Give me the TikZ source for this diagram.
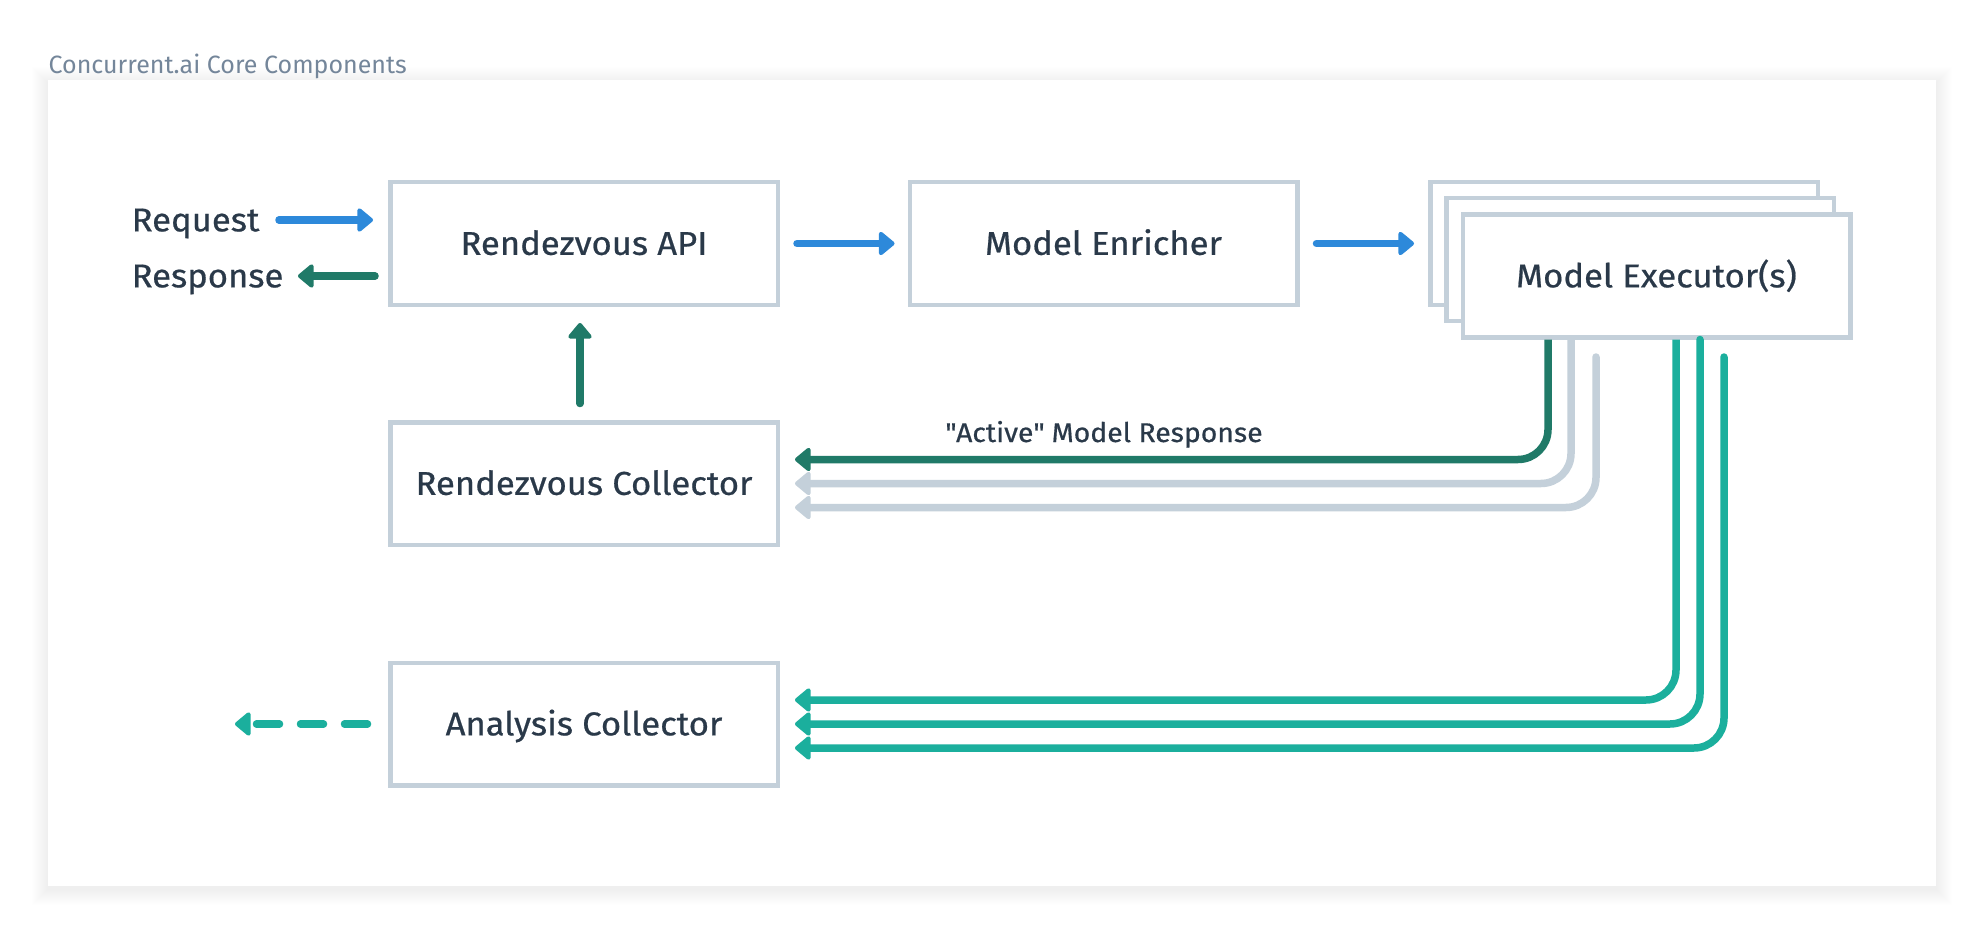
\documentclass[tikz,border=0pt]{standalone}
\usepackage{fontspec}
\setmainfont{Fira Sans}
\newfontfamily\lblfont[FakeStretch=1.05,FakeBold=0.6]{Fira Sans}
\usetikzlibrary{arrows.meta,calc}
\definecolor{bordergray}{HTML}{C4D0DA}
\definecolor{textdark}{HTML}{2A3949}
\definecolor{titlegray}{HTML}{74869A}
\definecolor{reqblue}{HTML}{2D89DA}
\definecolor{dgreen}{HTML}{207A68}
\definecolor{teal}{HTML}{1BAF9D}
\definecolor{linegray}{HTML}{C4D0DA}
\begin{document}
\begin{tikzpicture}[x=1pt,y=-1pt,
  box/.style={draw=bordergray, line width=4.5pt, fill=white,
    minimum width=387.5pt, minimum height=122.5pt, inner sep=0pt,
    text=textdark, font=\lblfont\fontsize{33}{33}\selectfont,
    text height=22.7pt, text depth=0pt},
  lbl/.style={text=textdark, font=\lblfont\fontsize{33}{33}\selectfont, inner sep=0pt,
    text height=22.7pt, text depth=0pt},
  arr/.style={line width=7.5pt, line cap=round,
    -{Triangle[length=17pt,width=27pt,round]}},
  butt/.style={line cap=butt}
]
\useasboundingbox (0,0) rectangle (1984,936);
\fill[white] (0,0) rectangle (1984,936);
% panel shadow
\foreach \i in {1,...,16}{
  \fill[black, opacity=0.0022] (48-\i,80-\i+3) rectangle (1936+\i,886+\i+3);
}
\fill[white] (48,80) rectangle (1936,886);
% title
\node[anchor=base west, inner sep=0pt, text=titlegray,
  font=\fontsize{25}{25}\selectfont] (title) at (48.5,74) {Concurrent.ai Core Components};
% boxes
\node[box] (api) at (584,243.5) {Rendezvous API};
\node[box] (enr) at (1103.5,243.5) {Model Enricher};
\node[box] (exec3) at (1624,243.5) {};
\node[box] (exec2) at (1640,259.5) {};
\node[box] (exec) at (1656.5,276) {Model Executor(s)};
\node[box] (rcol) at (584,483.5) {Rendezvous Collector};
\node[box] (acol) at (584,724) {Analysis Collector};
% request / response
\node[lbl, anchor=west] (req) at (131.5,220) {Request};
\node[lbl, anchor=west] (resp) at (131.5,276) {Response};
\draw[arr, reqblue] ($(api.west)+(-109,-23.5)$) -- ($(api.west)+(-15,-23.5)$);
\draw[arr, dgreen] ($(api.west)+(-13,32.5)$) -- ($(api.west)+(-90,32.5)$);
% main flow
\draw[arr, reqblue] ($(api.east)+(17,0)$) -- ($(enr.west)+(-13,0)$);
\draw[arr, reqblue] ($(enr.east)+(17,0)$) -- ($(exec3.west)+(-14,0)$);
\draw[arr, dgreen] ($(rcol.north)+(-4,-16.5)$) -- ($(api.south)+(-4,16)$);
% executor outputs to rendezvous collector
\draw[arr, butt, dgreen, rounded corners=30pt] ([xshift=-108.5pt]exec.south) |- ($(rcol.east)+(15,-24)$);
\draw[arr, butt, linegray, rounded corners=30pt] ([xshift=-85.5pt]exec.south) |- ($(rcol.east)+(15,0)$);
\draw[arr, linegray, rounded corners=30pt] ([xshift=-60.5pt,yshift=-17.5pt]exec.south) |- ($(rcol.east)+(15,24)$);
\node[anchor=base, inner sep=0pt, text=textdark, font=\lblfont\fontsize{27}{27}\selectfont]
  (actlbl) at (1104,442) {\textquotedbl Active\textquotedbl\ Model Response};
% executor outputs to analysis collector
\draw[arr, butt, teal, rounded corners=30pt] ([xshift=19.5pt]exec.south) |- ($(acol.east)+(15,-24)$);
\draw[arr, teal, rounded corners=30pt] ([xshift=43.5pt]exec.south) |- ($(acol.east)+(15,0)$);
\draw[arr, teal, rounded corners=30pt] ([xshift=67.5pt,yshift=-17.5pt]exec.south) |- ($(acol.east)+(15,24)$);
% dashed output
\draw[arr, teal, dash pattern=on 23pt off 21pt] ($(acol.west)+(-20.5,0)$) -- ($(acol.west)+(-153,0)$);
\end{tikzpicture}
\end{document}
